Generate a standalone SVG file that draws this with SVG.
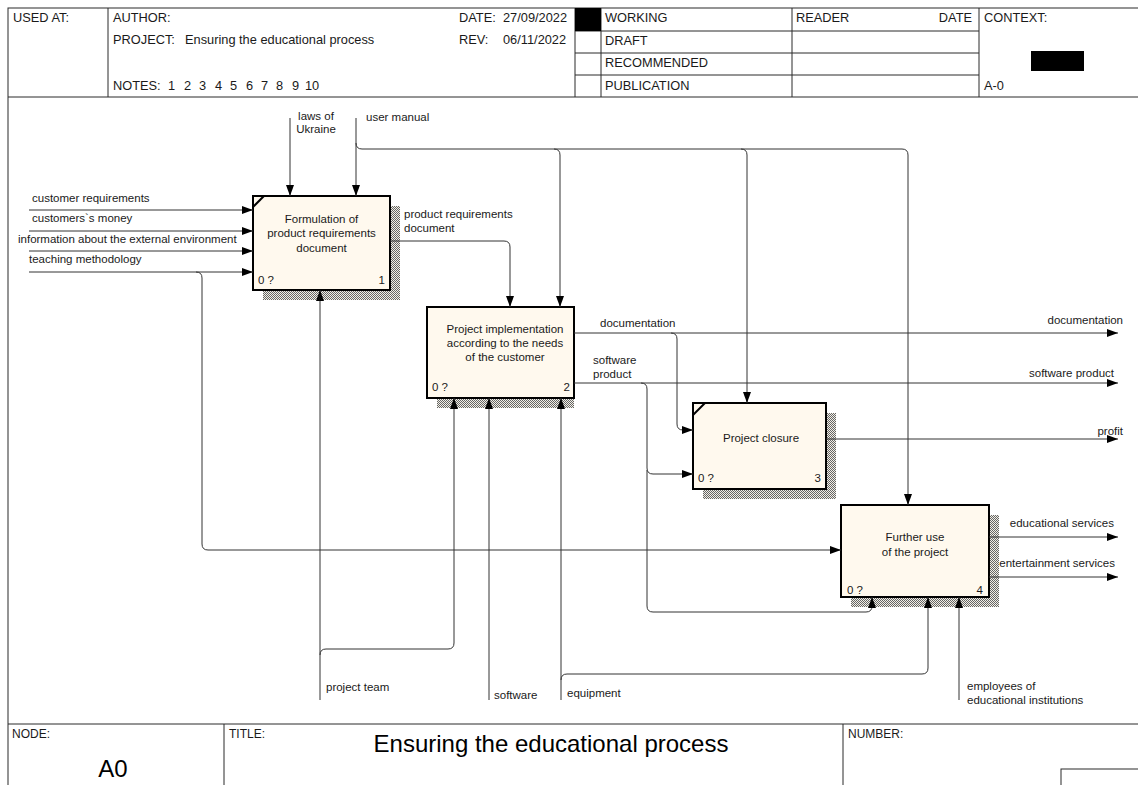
<svg xmlns="http://www.w3.org/2000/svg" width="1138" height="785" viewBox="0 0 1138 785">
  <style>
    .frame { fill: none; stroke: #2a2a2a; stroke-width: 1; }
    .hdr { font-family: "Liberation Sans", Arial, sans-serif; font-size: 12.8px; fill: #1a1a1a; }
    .lbl { font-family: "Liberation Sans", Arial, sans-serif; font-size: 11.5px; fill: #1a1a1a; }
    .box { fill: #FFF9EE; stroke: #000; stroke-width: 2; }
    .shadow { fill: url(#hatch); }
    .arrow { fill: none; stroke: #333; stroke-width: 1; }
    .arrow.end { marker-end: url(#head); }
  </style>
  <defs>
    <pattern id="hatch" width="2" height="2" patternUnits="userSpaceOnUse">
      <rect width="2" height="2" fill="#f2efe6"/>
      <rect x="0" y="0" width="1" height="1" fill="#666"/>
      <rect x="1" y="1" width="1" height="1" fill="#666"/>
    </pattern>
    <marker id="head" markerUnits="userSpaceOnUse" markerWidth="11" markerHeight="8" refX="11" refY="4" orient="auto">
      <path d="M0,0 L11,4 L0,8 Z" fill="#000"/>
    </marker>
  </defs>

  <rect width="1138" height="785" fill="#fff"/>
  <!-- drawing sheet -->
  <rect x="8" y="8" width="1140" height="790" fill="#FFF9EE" class="frame"/>

  <g id="header">
    <line x1="8" y1="97" x2="1138" y2="97" class="frame"/>
    <line x1="108" y1="8" x2="108" y2="97" class="frame"/>
    <line x1="575" y1="8" x2="575" y2="97" class="frame"/>
    <line x1="601" y1="8" x2="601" y2="97" class="frame"/>
    <line x1="792" y1="8" x2="792" y2="97" class="frame"/>
    <line x1="979" y1="8" x2="979" y2="97" class="frame"/>
    <line x1="575" y1="31" x2="979" y2="31" class="frame"/>
    <line x1="575" y1="53" x2="979" y2="53" class="frame"/>
    <line x1="575" y1="75" x2="979" y2="75" class="frame"/>
    <rect x="575" y="8" width="26" height="23" fill="#000"/>
    <rect x="1031" y="51" width="53" height="20" fill="#000"/>
    <text x="13" y="22" class="hdr">USED AT:</text>
    <text x="113" y="22" class="hdr">AUTHOR:</text>
    <text x="113" y="44" class="hdr">PROJECT:</text>
    <text x="185" y="44" class="hdr">Ensuring the educational process</text>
    <text y="90" class="hdr"><tspan x="113">NOTES:</tspan><tspan x="168">1</tspan><tspan x="184">2</tspan><tspan x="199">3</tspan><tspan x="215">4</tspan><tspan x="230">5</tspan><tspan x="246">6</tspan><tspan x="261">7</tspan><tspan x="276">8</tspan><tspan x="292">9</tspan><tspan x="305">10</tspan></text>
    <text x="459" y="22" class="hdr">DATE:</text>
    <text x="503" y="22" class="hdr">27/09/2022</text>
    <text x="459" y="44" class="hdr">REV:</text>
    <text x="503" y="44" class="hdr">06/11/2022</text>
    <text x="605" y="22" class="hdr">WORKING</text>
    <text x="605" y="45" class="hdr">DRAFT</text>
    <text x="605" y="67" class="hdr">RECOMMENDED</text>
    <text x="605" y="90" class="hdr">PUBLICATION</text>
    <text x="796" y="22" class="hdr">READER</text>
    <text x="972" y="22" class="hdr" text-anchor="end">DATE</text>
    <text x="984" y="22" class="hdr">CONTEXT:</text>
    <text x="984" y="90" class="hdr">A-0</text>
  </g>

  <g id="footer">
    <line x1="8" y1="724" x2="1138" y2="724" class="frame"/>
    <line x1="224" y1="724" x2="224" y2="785" class="frame"/>
    <line x1="843" y1="724" x2="843" y2="785" class="frame"/>
    <rect x="1061" y="769" width="80" height="20" fill="#fff" class="frame"/>
    <text x="12" y="738" class="hdr" style="font-size:12px">NODE:</text>
    <text x="113" y="777" font-family="Liberation Sans, Arial, sans-serif" font-size="24" fill="#000" text-anchor="middle">A0</text>
    <text x="229" y="738" class="hdr" style="font-size:12px">TITLE:</text>
    <text x="551" y="752" font-family="Liberation Sans, Arial, sans-serif" font-size="24" fill="#000" text-anchor="middle">Ensuring the educational process</text>
    <text x="848" y="738" class="hdr" style="font-size:12px">NUMBER:</text>
  </g>

  <!-- activity boxes -->
  <g id="node-1">
    <rect x="263" y="206" width="137" height="94" class="shadow"/>
    <rect x="253" y="196" width="137" height="94" class="box"/>
    <line x1="253" y1="207" x2="264" y2="196" stroke="#000" stroke-width="2"/>
    <text x="321.5" y="223" class="lbl" text-anchor="middle">Formulation of</text>
    <text x="321.5" y="237" class="lbl" text-anchor="middle">product requirements</text>
    <text x="321.5" y="252" class="lbl" text-anchor="middle">document</text>
    <text x="258" y="284" class="lbl">0 ?</text>
    <text x="385" y="284" class="lbl" text-anchor="end">1</text>
  </g>

  <g id="node-2">
    <rect x="437" y="317" width="137" height="91" class="shadow"/>
    <rect x="427" y="307" width="147" height="91" class="box"/>
    <text x="505" y="332.5" class="lbl" text-anchor="middle">Project implementation</text>
    <text x="505" y="346.5" class="lbl" text-anchor="middle">according to the needs</text>
    <text x="505" y="360.5" class="lbl" text-anchor="middle">of the customer</text>
    <text x="432" y="391" class="lbl">0 ?</text>
    <text x="570" y="391" class="lbl" text-anchor="end">2</text>
  </g>

  <g id="node-3">
    <rect x="703" y="413" width="133" height="86" class="shadow"/>
    <rect x="693" y="403" width="133" height="86" class="box"/>
    <line x1="693" y1="415" x2="705" y2="403" stroke="#000" stroke-width="2"/>
    <text x="761" y="442" class="lbl" text-anchor="middle">Project closure</text>
    <text x="698" y="482" class="lbl">0 ?</text>
    <text x="821" y="482" class="lbl" text-anchor="end">3</text>
  </g>

  <g id="node-4">
    <rect x="851" y="515" width="148" height="92" class="shadow"/>
    <rect x="841" y="505" width="148" height="92" class="box"/>
    <text x="915" y="541" class="lbl" text-anchor="middle">Further use</text>
    <text x="915" y="556" class="lbl" text-anchor="middle">of the project</text>
    <text x="847" y="594" class="lbl">0 ?</text>
    <text x="983" y="594" class="lbl" text-anchor="end">4</text>
  </g>

  <g id="connectors">
    <!-- inputs to node 1 -->
    <path class="arrow end" d="M29,210 H253"/>
    <path class="arrow end" d="M29,231 H253"/>
    <path class="arrow end" d="M29,251 H253"/>
    <path class="arrow end" d="M29,272 H253"/>
    <path class="arrow end" d="M196,272 Q202,272 202,278 V544 Q202,550 208,550 H841"/>
    <!-- controls -->
    <path class="arrow end" d="M290,118 V196"/>
    <path class="arrow end" d="M356,118 V196"/>
    <path class="arrow end" d="M356,143 Q356,149 362,149 H902 Q908,149 908,155 V505"/>
    <path class="arrow end" d="M554,149 Q560,149 560,155 V307"/>
    <path class="arrow end" d="M741,149 Q747,149 747,155 V403"/>
    <path class="arrow end" d="M390,241 H504 Q510,241 510,247 V307"/>
    <!-- outputs of node 2 -->
    <path class="arrow end" d="M574,333 H1118"/>
    <path class="arrow end" d="M671,333 Q677,333 677,339 V424 Q677,430 683,430 H693"/>
    <path class="arrow end" d="M574,383 H1118"/>
    <path class="arrow end" d="M641,383 Q647,383 647,389 V468 Q647,474 653,474 H693"/>
    <path class="arrow end" d="M647,470 V606 Q647,612 653,612 H866 Q872,612 872,606 V597"/>
    <!-- outputs of nodes 3 and 4 -->
    <path class="arrow end" d="M826,439 H1118"/>
    <path class="arrow end" d="M989,537 H1118"/>
    <path class="arrow end" d="M989,577 H1118"/>
    <!-- mechanisms -->
    <path class="arrow end" d="M320,700 V290"/>
    <path class="arrow end" d="M320,655 Q320,649 326,649 H448 Q454,649 454,643 V398"/>
    <path class="arrow end" d="M489,700 V398"/>
    <path class="arrow end" d="M561,700 V398"/>
    <path class="arrow end" d="M561,680 Q561,674 567,674 H922 Q928,674 928,668 V597"/>
    <path class="arrow end" d="M959,700 V597"/>

    <!-- arrow labels -->
    <text x="32" y="202" class="lbl">customer requirements</text>
    <text x="32" y="222" class="lbl">customers`s money</text>
    <text x="18" y="243" class="lbl">information about the external environment</text>
    <text x="29" y="263" class="lbl">teaching methodology</text>
    <text x="316" y="120" class="lbl" text-anchor="middle">laws of</text>
    <text x="316" y="133" class="lbl" text-anchor="middle">Ukraine</text>
    <text x="366" y="121" class="lbl">user manual</text>
    <text x="404" y="218" class="lbl">product requirements</text>
    <text x="404" y="232" class="lbl">document</text>
    <text x="600" y="327" class="lbl">documentation</text>
    <text x="593" y="364" class="lbl">software</text>
    <text x="593" y="378" class="lbl">product</text>
    <text x="1123" y="324" class="lbl" text-anchor="end">documentation</text>
    <text x="1114" y="377" class="lbl" text-anchor="end">software product</text>
    <text x="1123" y="435" class="lbl" text-anchor="end">profit</text>
    <text x="1114" y="527" class="lbl" text-anchor="end">educational services</text>
    <text x="1115" y="567" class="lbl" text-anchor="end">entertainment services</text>
    <text x="326" y="691" class="lbl">project team</text>
    <text x="494" y="699" class="lbl">software</text>
    <text x="567" y="697" class="lbl">equipment</text>
    <text x="967" y="690" class="lbl">employees of</text>
    <text x="967" y="704" class="lbl">educational institutions</text>
  </g>
</svg>
